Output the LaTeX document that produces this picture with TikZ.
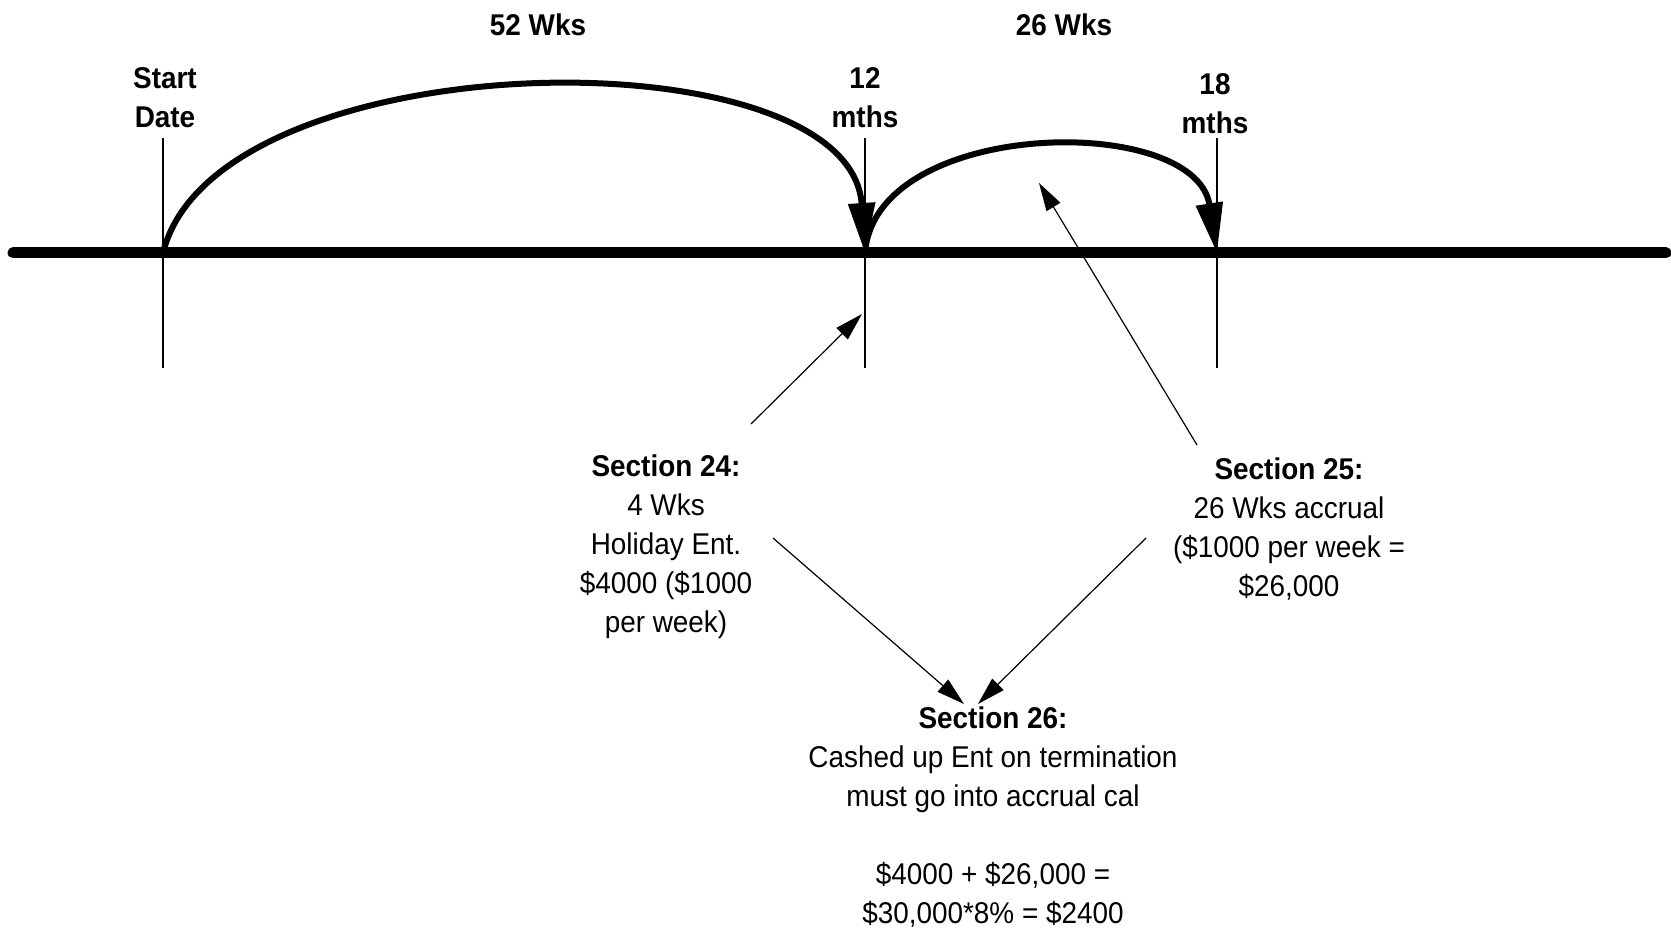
\documentclass[tikz,border=0pt]{standalone}
\usepackage{fontspec}
\setmainfont{Liberation Sans}[FakeStretch=0.93]
\usetikzlibrary{arrows.meta}

\begin{document}
\begin{tikzpicture}[x=0.5pt,y=-0.5pt,
  head/.style={align=center,inner sep=0pt,font=\fontsize{15}{19.5}\selectfont\bfseries},
  note/.style={align=center,inner sep=0pt,font=\fontsize{15}{19.5}\selectfont},
  axis/.style={line width=5.5pt,line cap=round},
  tick/.style={line width=1pt},
  jump/.style={line width=3pt,-{Triangle[length=25pt,width=13pt]}},
  pointer/.style={line width=0.6pt,-{Triangle[length=14pt,width=8pt]}}
]
\useasboundingbox (0,0) rectangle (1671,929);

% time line
\coordinate (t0)  at (163,253);
\coordinate (t12) at (865,253);
\coordinate (t18) at (1217,253);
\draw[axis] (13,253) -- (1666,253);
\draw[tick] (163,138) -- (163,368);
\draw[tick] (865,138) -- (865,368);
\draw[tick] (1217,138) -- (1217,368);

\node[head] (start) at (165,98)  {Start\\Date};
\node[head] (m12)   at (865,98)  {12\\mths};
\node[head] (m18)   at (1215,104) {18\\mths};
\node[head] (w52)   at (538,25)  {52 Wks};
\node[head] (w26)   at (1064,25) {26 Wks};

\draw[jump] (t0) .. controls (215,40) and (850,30) .. (t12);
\draw[jump] (t12) .. controls (875,118) and (1195,112) .. (t18);

% sections
\node[note] (s24) at (666,547) {\textbf{Section 24:}\\4 Wks\\Holiday Ent.\\\$4000 (\$1000\\per week)};
\node[note] (s25) at (1289,529) {\textbf{Section 25:}\\26 Wks accrual\\(\$1000 per week =\\\$26,000};
\node[note] (s26) at (993,817) {\textbf{Section 26:}\\Cashed up Ent on termination\\must go into accrual cal\\[19.5pt]\$4000 + \$26,000 =\\\$30,000*8\% = \$2400};

\coordinate (a24) at (751,424);
\coordinate (b24) at (862,314);
\coordinate (a25) at (1197,445);
\coordinate (b25) at (1039,183);
\coordinate (c24) at (773,538);
\coordinate (c25) at (1146,538);
\coordinate (d24) at (964,704);
\coordinate (d25) at (978,704);

\draw[pointer] (a24) -- (b24);
\draw[pointer] (a25) -- (b25);
\draw[pointer] (c24) -- (d24);
\draw[pointer] (c25) -- (d25);
\end{tikzpicture}
\end{document}
